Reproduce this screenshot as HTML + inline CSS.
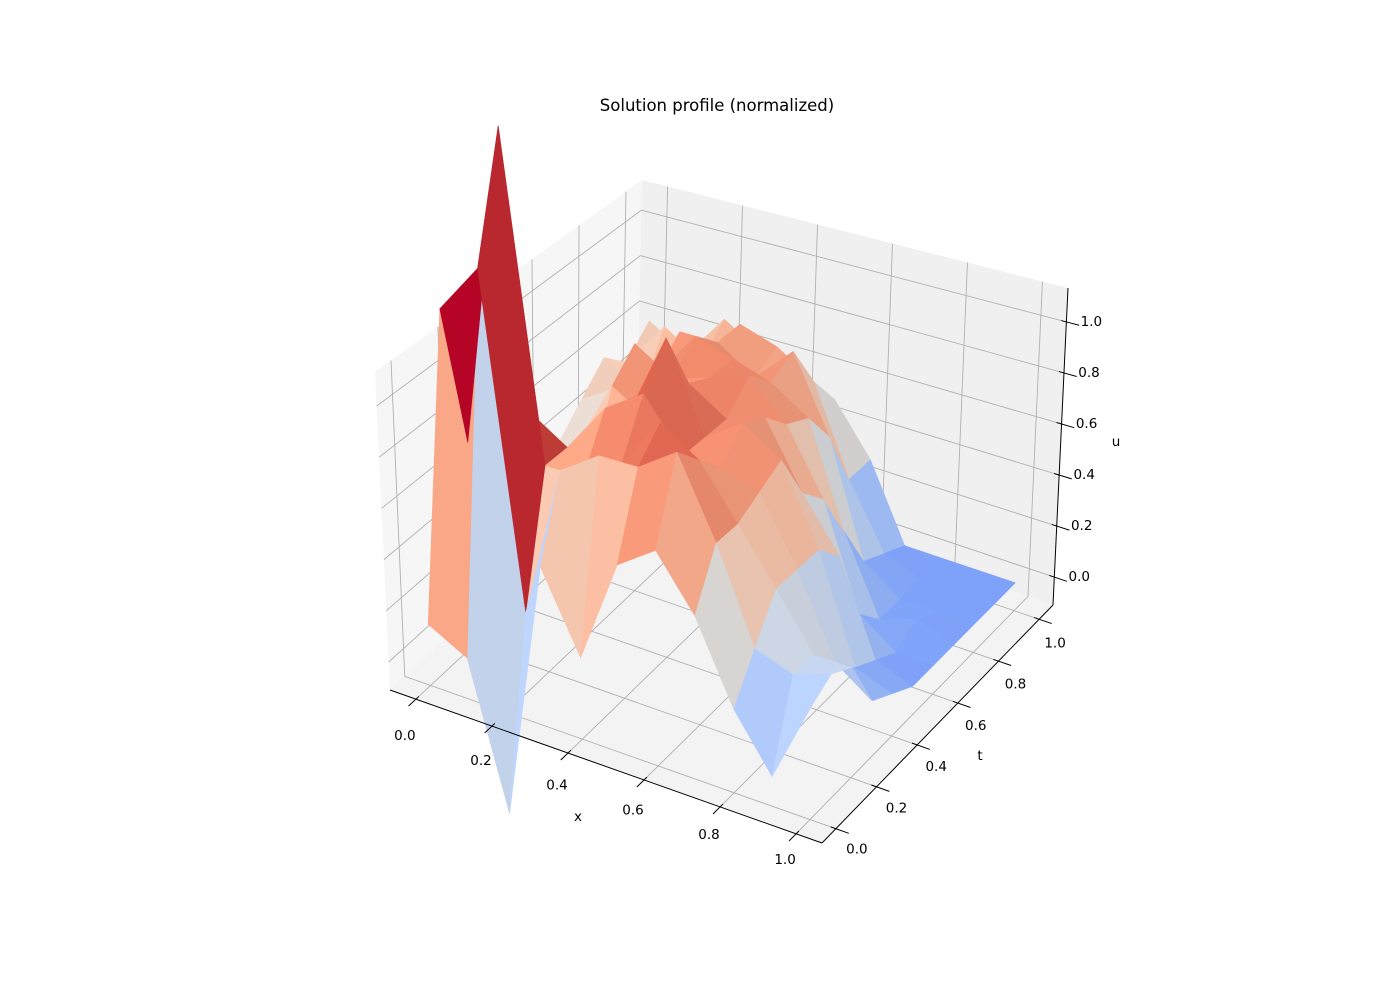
<!DOCTYPE html>
<html><head><meta charset="utf-8"><title>Solution profile</title>
<style>
html,body{margin:0;padding:0;background:#fff;}
svg{display:block;font-family:"DejaVu Sans","Liberation Sans",sans-serif;}
</style></head>
<body>
<svg id="chart" width="1400" height="1000" viewBox="0 0 1400 1000" xmlns="http://www.w3.org/2000/svg">
<rect width="1400" height="1000" fill="#fff"/>
<text x="717" y="111" text-anchor="middle" font-size="16.5" fill="#000">Solution profile (normalized)</text>
<g id="panes"></g>
<g id="grid"></g>
<g id="surface"></g>
<g id="axes"></g>
</svg>
<script>
const xVals = [0,0.1,0.2,0.3,0.4,0.5,0.6,0.7,0.8,0.9,1.0];
const tVals = [0,0.1,0.2,0.3,0.4,0.5,0.6,0.7,0.8,0.9,1.0];
const uRow0  = [0.13,0.05,-0.5,0.5,0.2,0.6,0.7,0.5,0.2,0.0,0.3];
const uRow1  = [1.3,1.5,0.2,0.8,0.9,0.9,1.0,0.7,0.35,0.3,0.35];
const uRow2  = [0.7,2.0,0.7,0.7,0.8,1.0,0.9,0.7,0.5,0.3,0.3];
const uRow3  = [0.5,0.8,0.7,0.9,1.0,0.8,0.8,0.75,0.5,0.2,0.1];
const uRow4  = [0.3,0.6,0.5,0.8,1.15,0.8,0.9,0.8,0.5,0.1,0.05];
const uRow5  = [0.3,0.5,0.8,0.7,0.9,0.8,0.85,0.6,0.4,0.05,0.0];
const uRow6  = [0.4,0.4,0.9,0.8,0.85,0.9,0.75,0.5,0.1,0.0,0.0];
const uRow7  = [0.5,0.6,0.7,0.9,0.85,0.8,0.7,0.3,0.0,0.05,0.0];
const uRow8  = [0.6,0.5,0.8,0.8,0.7,0.85,0.55,0.1,0.0,0.0,0.0];
const uRow9  = [0.5,0.7,0.6,0.8,0.75,0.65,0.3,0.05,0.0,0.0,0.0];
const uRow10 = [0.6,0.5,0.7,0.6,0.5,0.5,0.3,0.0,0.0,0.0,0.0];
const uRows = [uRow0,uRow1,uRow2,uRow3,uRow4,uRow5,uRow6,uRow7,uRow8,uRow9,uRow10];
const xTickLabels = ["0.0","0.2","0.4","0.6","0.8","1.0"];
const tTickLabels = ["0.0","0.2","0.4","0.6","0.8","1.0"];
const zTickLabels = ["0.0","0.2","0.4","0.6","0.8","1.0"];

const NS="http://www.w3.org/2000/svg";
const BL=[390,690],BF=[822,843],BR=[1053,605],BB=[636,462];
const TL=[375,372],TF=[824,500],TR=[1068,288],TB=[642,180];
function bil(P0,P1,P2,P3,u,v){const a=(1-u)*(1-v),b=u*(1-v),c=u*v,d=(1-u)*v;
  return [a*P0[0]+b*P1[0]+c*P2[0]+d*P3[0],a*P0[1]+b*P1[1]+c*P2[1]+d*P3[1]];}
function box(u,v,w){const p=bil(BL,BF,BR,BB,u,v),q=bil(TL,TF,TR,TB,u,v);
  return [p[0]*(1-w)+q[0]*w,p[1]*(1-w)+q[1]*w];}
const xU=x=>0.06+0.88*x, tV=t=>0.06+0.88*t, zW=z=>0.088+0.805*z;
function proj(x,t,z){return box(xU(x),tV(t),zW(z));}
function mk(tag,attrs,parent){const e=document.createElementNS(NS,tag);for(const k in attrs)e.setAttribute(k,attrs[k]);parent.appendChild(e);return e;}
const pts=a=>a.map(p=>p[0].toFixed(1)+","+p[1].toFixed(1)).join(" ");

const panes=document.getElementById('panes');
let e;
e=mk('polygon',{points:pts([box(0,0,0),box(1,0,0),box(1,1,0),box(0,1,0)]),fill:'#f3f3f3'},panes);


e=mk('polygon',{points:pts([box(0,0,0),box(0,1,0),box(0,1,1),box(0,0,1)]),fill:'#f6f6f6'},panes);


e=mk('polygon',{points:pts([box(0,1,0),box(1,1,0),box(1,1,1),box(0,1,1)]),fill:'#f0f0f0'},panes);



const grid=document.getElementById('grid');
function gl(a,b,name){const l=mk('line',{x1:a[0],y1:a[1],x2:b[0],y2:b[1],stroke:'#b0b0b0','stroke-width':0.9},grid);
  
  }
xTickLabels.forEach(s=>{const u=xU(parseFloat(s));
  gl(box(u,0,0),box(u,1,0),'x-grid-floor');
  gl(box(u,1,0),box(u,1,1),'x-grid-back');});
tTickLabels.forEach(s=>{const v=tV(parseFloat(s));
  gl(box(0,v,0),box(1,v,0),'t-grid-floor');
  gl(box(0,v,0),box(0,v,1),'t-grid-left');});
zTickLabels.forEach(s=>{const w=zW(parseFloat(s));
  gl(box(0,0,w),box(0,1,w),'z-grid-left');
  gl(box(0,1,w),box(1,1,w),'z-grid-back');});

const CW=[[59,76,192],[68,90,204],[77,104,215],[87,117,225],[98,130,234],[108,142,241],[119,154,247],[130,165,251],[141,176,254],[152,185,255],[163,194,255],[174,201,253],[184,208,249],[194,213,244],[204,217,238],[213,219,230],[221,221,221],[229,216,209],[236,211,197],[241,204,184],[245,196,172],[247,187,159],[247,177,147],[247,166,134],[244,154,123],[241,141,111],[236,127,99],[229,112,88],[222,96,77],[213,80,66],[203,62,56],[192,40,47],[180,4,38]];
function cmap(s){s=Math.max(0,Math.min(1,s));const f=s*32,i=Math.min(31,Math.floor(f)),r=f-i;
  return CW[i].map((c,k)=>c+(CW[i+1][k]-c)*r);}
const VMIN=-0.3,VMAX=1.15;

const surf=document.getElementById('surface');
const faces=[];
for(let i=0;i<tVals.length-1;i++){for(let j=0;j<xVals.length-1;j++){
  const c=[[j,i],[j+1,i],[j+1,i+1],[j,i+1]].map(([a,b])=>({x:xVals[a],t:tVals[b],z:uRows[b][a]}));
  const zm=c.reduce((s,p)=>s+p.z,0)/4, xm=(xVals[j]+xVals[j+1])/2, tm=(tVals[i]+tVals[i+1])/2;
  const depth=0.866*(0.5*xU(xm)-0.866*tV(tm))+0.5*zW(zm)*0.3;
  const d1=[xU(c[2].x)-xU(c[0].x),tV(c[2].t)-tV(c[0].t),zW(c[2].z)-zW(c[0].z)];
  const d2=[xU(c[3].x)-xU(c[1].x),tV(c[3].t)-tV(c[1].t),zW(c[3].z)-zW(c[1].z)];
  let n=[d1[1]*d2[2]-d1[2]*d2[1],d1[2]*d2[0]-d1[0]*d2[2],d1[0]*d2[1]-d1[1]*d2[0]];
  const nl=Math.hypot(...n)||1;n=n.map(q=>q/nl);if(n[2]<0)n=n.map(q=>-q);
  const L=[-0.6,-0.6,0.53];const dot=n[0]*L[0]+n[1]*L[1]+n[2]*L[2];
  faces.push({c,zm,depth,dot,i,j});
}}
faces.sort((a,b)=>a.depth-b.depth);
faces.forEach(f=>{
  const col=cmap((f.zm-VMIN)/(VMAX-VMIN));
  const k=0.97+0.06*f.dot;
  const rgb='rgb('+col.map(q=>Math.round(Math.min(255,q*k))).join(',')+')';
  const p=mk('polygon',{points:pts(f.c.map(q=>proj(q.x,q.t,q.z))),fill:rgb,stroke:rgb,'stroke-width':0.6,'stroke-linejoin':'round'},surf);
  
  
});

const ax=document.getElementById('axes');
function al(a,b,name){const l=mk('line',{x1:a[0],y1:a[1],x2:b[0],y2:b[1],stroke:'#000','stroke-width':1},ax);
  
  }
function tx(p,s,name,anchor){const t=mk('text',{x:p[0].toFixed(1),y:p[1].toFixed(1),'font-size':13.5,'text-anchor':anchor||'middle','dominant-baseline':'central',fill:'#000'},ax);
  t.textContent=s;
  
  }
al(box(0,0,0),box(1,0,0),'x-axis-line');
al(box(1,0,0),box(1,1,0),'t-axis-line');
al(box(1,1,0),box(1,1,1),'z-axis-line');
xTickLabels.forEach(s=>{const x=parseFloat(s),u=xU(x);
  al(box(u,0.012,0),box(u,-0.03,0),'x-tick');
  const p=box(u,0,0);tx([p[0]-11,p[1]+37-11*x],s,'x-tick-label');});
tTickLabels.forEach(s=>{const t=parseFloat(s),v=tV(t);
  al(box(0.988,v,0),box(1.03,v,0),'t-tick');
  const p=box(1,v,0);tx([p[0]+21-5*t,p[1]+21+3*t],s,'t-tick-label');});
zTickLabels.forEach(s=>{const w=zW(parseFloat(s));
  al(box(0.988,1,w),box(1.03,1,w),'z-tick');
  const p=box(1,1,w);tx([p[0]+25,p[1]],s,'z-tick-label');});
tx([578,817],'x','x-axis-title');
tx([980,756],'t','t-axis-title');
tx([1116,442],'u','z-axis-title');
</script>
</body></html>
